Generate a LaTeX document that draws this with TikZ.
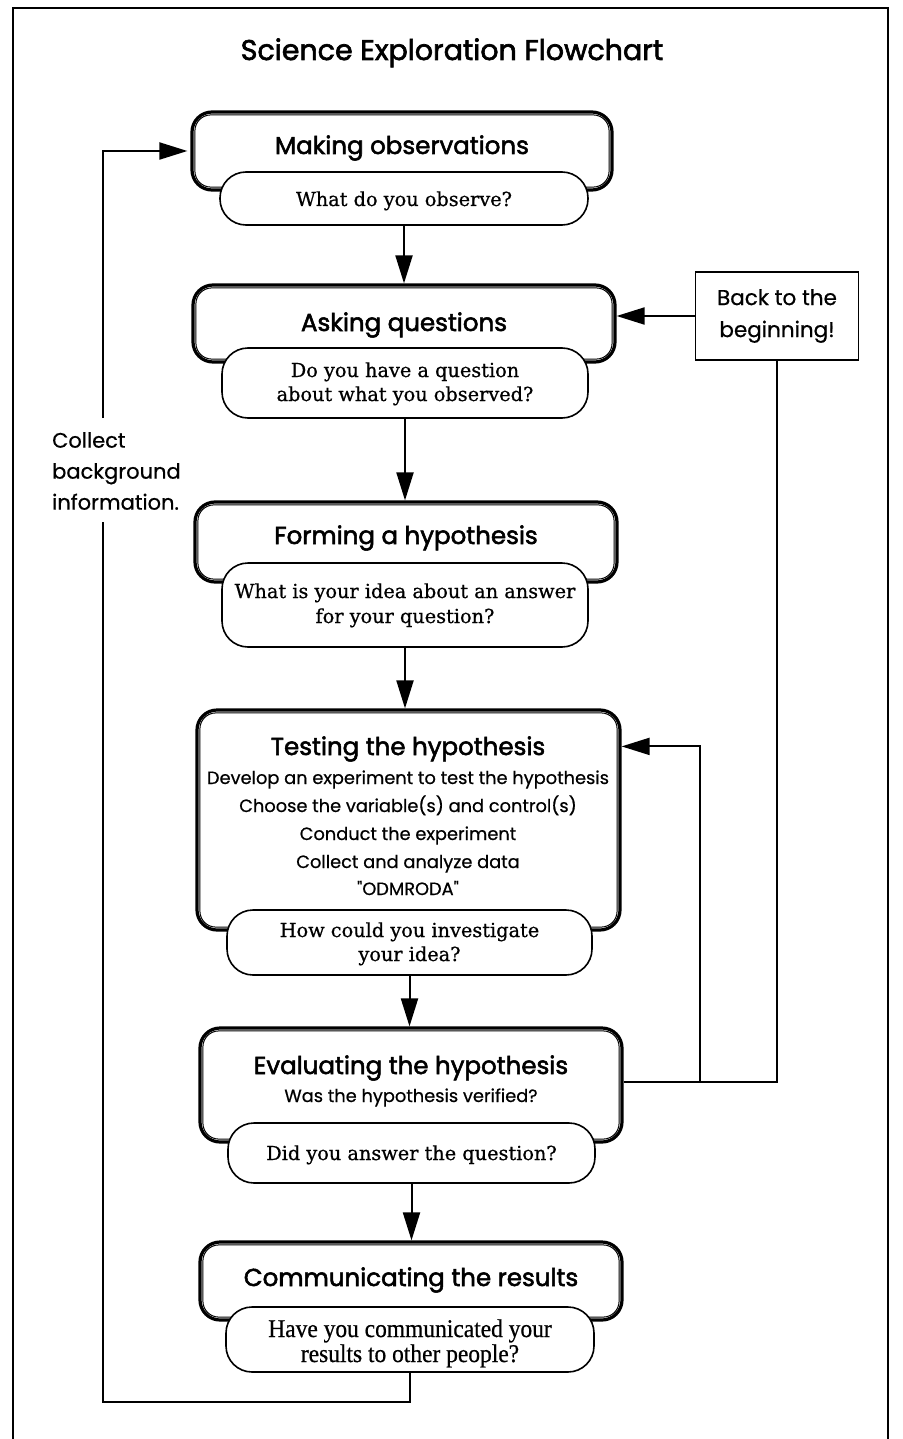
\documentclass[tikz,border=0pt]{standalone}
\usepackage{fontspec}
\usetikzlibrary{arrows.meta,calc}
\newfontfamily\comicfont[FakeBold=0.6]{Poppins}
\newfontfamily\comicbold[FakeBold=2.2]{Poppins}
\newfontfamily\schoolfont[FakeBold=0.7]{DejaVu Serif}
\newfontfamily\condfont[FakeStretch=0.92,FakeBold=0.6]{Liberation Serif}
\newcommand\innerline[1]{\draw[line width=1pt, rounded corners=16pt] ([xshift=4.5pt,yshift=-4.5pt]#1.north west) rectangle ([xshift=-4.5pt,yshift=4.5pt]#1.south east);}
\tikzset{
  obox/.style={draw, line width=3.2pt, rounded corners=20pt, inner sep=0pt, fill=white},
  pill/.style={draw, line width=1.6pt, rounded corners=26pt, fill=white, inner sep=0pt},
  head/.style={anchor=base, inner sep=0pt, font=\comicbold\fontsize{24.5}{28}\selectfont},
  sub/.style={anchor=base, inner sep=0pt, font=\comicfont\fontsize{17.8}{20}\selectfont},
  qtext/.style={anchor=base, inner sep=0pt, font=\schoolfont\fontsize{19.3}{22}\selectfont},
  ctext/.style={anchor=base, inner sep=0pt, font=\condfont\fontsize{25.5}{28}\selectfont},
  note/.style={inner sep=0pt, font=\comicfont\fontsize{21}{31}\selectfont},
  conn/.style={line width=2pt},
  arr/.style={line width=2pt, -{Triangle[length=28pt,width=17pt]}},
}
\begin{document}
\begin{tikzpicture}[x=1pt,y=-1pt]
\useasboundingbox (0,0) rectangle (902,1439);
% frame
\draw[line width=2pt] (13,1439) -- (13,8) -- (888,8) -- (888,1439);
% title
\node[anchor=base, inner sep=0pt, font=\comicbold\fontsize{28.5}{32}\selectfont] (title) at (452,60) {Science Exploration Flowchart};

% box 1
\node[obox, minimum width=420pt, minimum height=78pt] (b1) at (402,151) {};
\innerline{b1}
\node[pill, minimum width=368pt, minimum height=53pt] (p1) at (404,198.5) {};
\node[head] (h1) at (402,154) {Making observations};
\node[qtext] (q1) at (404,206) {What do you observe?};

% box 2
\node[obox, minimum width=422pt, minimum height=77pt] (b2) at (404,323.5) {};
\innerline{b2}
\node[pill, minimum width=366pt, minimum height=70pt] (p2) at (405,383) {};
\node[head] (h2) at (404,331) {Asking questions};
\node[qtext] (q2a) at (405,377) {Do you have a question};
\node[qtext] (q2b) at (405,401) {about what you observed?};

% box 3
\node[obox, minimum width=422pt, minimum height=80pt] (b3) at (406,542) {};
\innerline{b3}
\node[pill, minimum width=366pt, minimum height=84pt] (p3) at (405,605) {};
\node[head] (h3) at (406,544) {Forming a hypothesis};
\node[qtext] (q3a) at (405,598) {What is your idea about an answer};
\node[qtext] (q3b) at (405,623) {for your question?};

% box 4
\node[obox, minimum width=423pt, minimum height=220pt] (b4) at (408.5,820) {};
\innerline{b4}
\node[pill, minimum width=365pt, minimum height=65pt] (p4) at (409.5,942.5) {};
\node[head] (h4) at (408,755) {Testing the hypothesis};
\node[sub] (s4a) at (408,784) {Develop an experiment to test the hypothesis};
\node[sub] (s4b) at (408,812) {Choose the variable(s) and control(s)};
\node[sub] (s4c) at (408,840) {Conduct the experiment};
\node[sub] (s4d) at (408,868) {Collect and analyze data};
\node[sub] (s4e) at (408,895) {"ODMRODA"};
\node[qtext] (q4a) at (409.5,937) {How could you investigate};
\node[qtext] (q4b) at (409.5,961) {your idea?};

% box 5
\node[obox, minimum width=422pt, minimum height=114pt] (b5) at (411,1085) {};
\innerline{b5}
\node[pill, minimum width=367pt, minimum height=60pt] (p5) at (411.5,1153) {};
\node[head] (h5) at (411,1074) {Evaluating the hypothesis};
\node[sub] (s5) at (411,1102) {Was the hypothesis verified?};
\node[qtext] (q5) at (411.5,1160) {Did you answer the question?};

% box 6
\node[obox, minimum width=422pt, minimum height=78pt] (b6) at (411,1281) {};
\innerline{b6}
\node[pill, minimum width=368pt, minimum height=65pt] (p6) at (410,1339.5) {};
\node[head] (h6) at (411,1286) {Communicating the results};
\node[ctext] (c6a) at (410,1337) {Have you communicated your};
\node[ctext] (c6b) at (410,1362) {results to other people?};

% side notes
\node[draw, line width=1.5pt, minimum width=163pt, minimum height=88pt, align=center, font=\comicfont\fontsize{21.5}{32}\selectfont] (back) at (777,316) {Back to the\\beginning!};
\node[note, anchor=west, align=left] (collect) at (52,471) {Collect\\background\\information.};

% main arrows
\draw[arr] (p1.south) -- (p1.south |- b2.north);
\draw[arr] (p2.south) -- (p2.south |- b3.north);
\draw[arr] (p3.south) -- (p3.south |- b4.north);
\draw[arr] (p4.south) -- (p4.south |- b5.north);
\draw[arr] (p5.south) -- (p5.south |- b6.north);

% left loop
\coordinate (lb) at (103,1402);
\coordinate (lg1) at (103,522);
\coordinate (lg2) at (103,418);
\draw[conn] (p6.south) |- (lb) -- (lg1);
\draw[arr, shorten >=3pt] (lg2) |- (b1.west);

% right loop
\coordinate (rc) at (777,1082);
\coordinate (rb) at (700,1082);
\coordinate (t4) at ($(b4.north east)+(0,38)$);
\draw[conn] (b5.east |- rc) -- (rc) -- (back.south);
\draw[arr] (rb) |- (t4);
\draw[arr] (back.west) -- (back.west -| b2.east);
\end{tikzpicture}
\end{document}
